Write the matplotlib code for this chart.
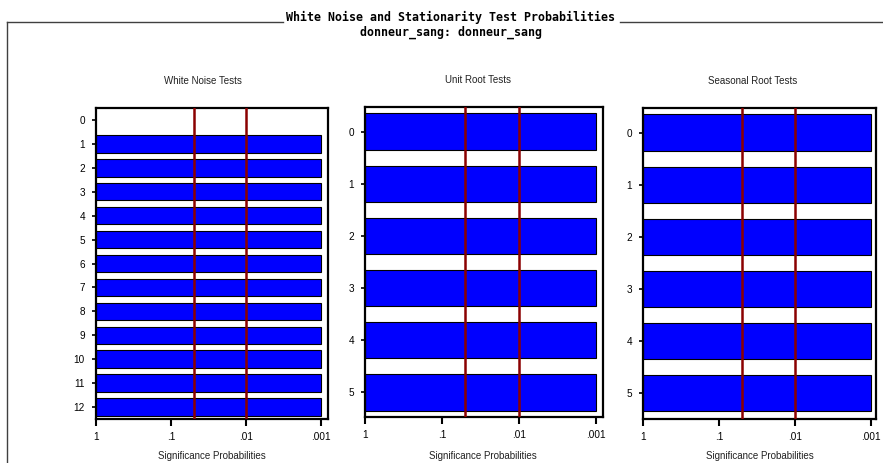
import numpy as np
import matplotlib
matplotlib.use("Agg")
import matplotlib.pyplot as plt
from matplotlib.lines import Line2D

# ---- data -------------------------------------------------------------
white_noise_lags = [0, 1, 2, 3, 4, 5, 6, 7, 8, 9, 10, 11, 12]
# Ljung-Box probabilities (lag 0 is not tested)
white_noise_prob = [np.nan, 0.0001, 0.0001, 0.0001, 0.0001, 0.0001, 0.0001,
                    0.0001, 0.0001, 0.0001, 0.0001, 0.0001, 0.0001]

unit_root_lags = [0, 1, 2, 3, 4, 5]
unit_root_prob = [0.0001, 0.0001, 0.0001, 0.0001, 0.0001, 0.0001]

seasonal_root_lags = [0, 1, 2, 3, 4, 5]
seasonal_root_prob = [0.0001, 0.0001, 0.0001, 0.0001, 0.0001, 0.0001]

x_ticks = [1, 0.1, 0.01, 0.001]
x_tick_labels = ["1", ".1", ".01", ".001"]
ref_levels = [0.05, 0.01]
prob_floor = 0.001

title = "White Noise and Stationarity Test Probabilities"
subtitle = "donneur_sang: donneur_sang"
panel_titles = ["White Noise Tests", "Unit Root Tests", "Seasonal Root Tests"]
x_label = "Significance Probabilities"

# ---- figure -----------------------------------------------------------
W, H = 883, 463
fig = plt.figure(figsize=(W / 100, H / 100), dpi=100)
fig.patch.set_facecolor("white")

def fx(px):
    return px / W

def fy(py):
    return 1 - py / H

# header rules and frame
rule_col = "#404040"
fig.add_artist(Line2D([fx(6.5), fx(283)], [fy(22), fy(22)], color=rule_col, lw=1.0))
fig.add_artist(Line2D([fx(620), fx(883)], [fy(22), fy(22)], color=rule_col, lw=1.0))
fig.add_artist(Line2D([fx(6.5), fx(6.5)], [fy(22), fy(463)], color=rule_col, lw=1.0))
fig.text(fx(451), fy(17), title, ha="center", va="center",
         family="DejaVu Sans Mono", fontsize=8.4, fontweight="bold")
fig.text(fx(451), fy(32), subtitle, ha="center", va="center",
         family="DejaVu Sans Mono", fontsize=8.4, fontweight="bold")

panels = [
    # (left, top, right, bottom) in px, lags, probs, ylim, bar height, xmin exponent
    ((96, 108, 328, 419), white_noise_lags, white_noise_prob, (12.5, -0.5), 0.73, -3.093),
    ((365, 107.3, 603.3, 417.3), unit_root_lags, unit_root_prob, (5.48, -0.468), 0.70, -3.10),
    ((643.3, 107.7, 876, 419.3), seasonal_root_lags, seasonal_root_prob, (5.50, -0.48), 0.70, -3.07),
]
title_centers = [(203, 81), (478, 80), (753, 81)]
xlabel_centers = [(212, 456), (483, 456), (760, 456)]

label_font = dict(family="Liberation Sans", fontsize=7.2)

for (box, lags, probs, ylim, bh, xmin_exp), ptitle, tc, lc in zip(
        panels, panel_titles, title_centers, xlabel_centers):
    l, t, r, b = box
    ax = fig.add_axes([fx(l), fy(b), fx(r - l), (b - t) / H])
    p = np.maximum(np.array(probs, dtype=float), prob_floor)
    ax.barh(lags, -(1 - p), left=1, height=bh, color="#0000FF",
            edgecolor="black", linewidth=0.8, zorder=2)
    ax.set_xscale("log")
    ax.set_xlim(1, 10 ** xmin_exp)
    ax.set_ylim(*ylim)
    for lv in ref_levels:
        ax.axvline(lv, color="#8B0000", lw=1.8, zorder=3)
    ax.set_xticks(x_ticks)
    ax.set_xticklabels(x_tick_labels, **label_font)
    ax.xaxis.set_minor_locator(matplotlib.ticker.NullLocator())
    ax.set_yticks(lags)
    ax.set_yticklabels([str(v) for v in lags], **label_font)
    ax.tick_params(axis="x", direction="out", length=5, width=1.5, pad=4, colors="black")
    ax.tick_params(axis="y", direction="out", length=3, width=1.2, pad=5, colors="black")
    for s in ax.spines.values():
        s.set_linewidth(1.6)
        s.set_color("black")
    fig.text(fx(tc[0]), fy(tc[1]), ptitle, ha="center", va="center",
             fontsize=7.0, family="Liberation Sans", color="#222222")
    fig.text(fx(lc[0]), fy(lc[1]), x_label, ha="center", va="center",
             fontsize=7.0, family="Liberation Sans", color="#222222")

fig.savefig("out.png", dpi=100)
